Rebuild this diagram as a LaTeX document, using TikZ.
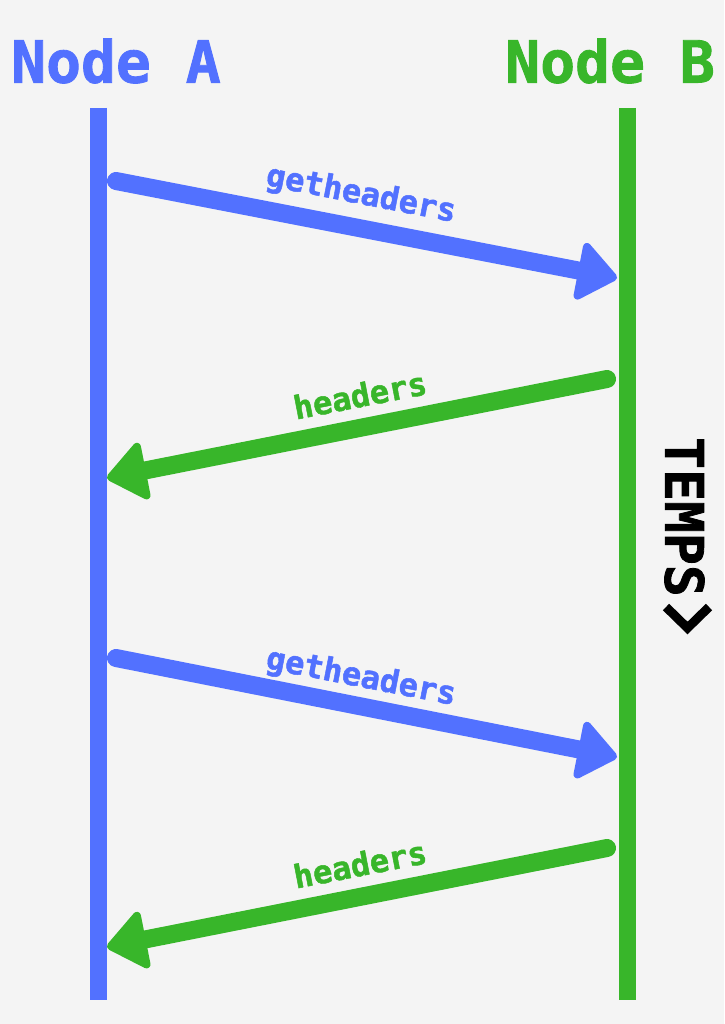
\documentclass[tikz,border=0pt]{standalone}
\usepackage{fontspec}
\setmonofont{DejaVu Sans Mono}
\newfontfamily\heavyfont{DejaVu Sans Mono}[BoldFeatures={FakeBold=1.5}]
\usepackage{tikz}
\usetikzlibrary{arrows.meta, positioning}
\definecolor{nodeblue}{HTML}{5271FF}
\definecolor{nodegreen}{HTML}{38B62A}
\definecolor{paper}{HTML}{F4F4F4}
\tikzset{
  lifeline/.style={line width=17pt},
  msg/.style={line width=18pt, line cap=round,
    -{Triangle[length=42pt,width=64pt,round,line width=8pt]}},
  title/.style={font=\heavyfont\bfseries\fontsize{58}{58}\selectfont, inner sep=0pt},
  msglabel/.style={font=\heavyfont\bfseries\fontsize{32}{32}\selectfont, inner sep=0pt},
}
\begin{document}
\begin{tikzpicture}[x=1pt, y=-1pt]
    \fill [paper] (0,0) rectangle (724,1024);
    \useasboundingbox (0,0) rectangle (724,1024);
    % titles
    \node [title, text=nodeblue, anchor=west](titleA) at (11,61) {Node A};
    \node [title, text=nodegreen, anchor=east](titleB) at (715,61) {Node B};
    % lifelines
    \coordinate (Atop) at (98,108);
    \coordinate (Abot) at (98,1000);
    \coordinate (Btop) at (627,108);
    \coordinate (Bbot) at (627,1000);
    \draw [lifeline, nodeblue] (Atop)--(Abot);
    \draw [lifeline, nodegreen] (Btop)--(Bbot);
    % messages
    \coordinate (a1) at (116,181);
    \coordinate (b1) at (617,278);
    \coordinate (b2) at (607,379);
    \coordinate (a2) at (107,478);
    \coordinate (a3) at (116,658);
    \coordinate (b3) at (617,757);
    \coordinate (b4) at (607,848);
    \coordinate (a4) at (107,947);
    \draw [msg, nodeblue] (a1)--(b1);
    \draw [msg, nodegreen] (b2)--(a2);
    \draw [msg, nodeblue] (a3)--(b3);
    \draw [msg, nodegreen] (b4)--(a4);
    \node [msglabel, text=nodeblue, rotate=-11](get1) at (361,195) {getheaders};
    \node [msglabel, text=nodegreen, rotate=11](hdr1) at (360,395) {headers};
    \node [msglabel, text=nodeblue, rotate=-11](get2) at (361,678) {getheaders};
    \node [msglabel, text=nodegreen, rotate=11](hdr2) at (360,864) {headers};
    % time
    \node [font=\heavyfont\bfseries\fontsize{53}{53}\selectfont, inner sep=0pt, rotate=-90](temps) at (684.5,517) {TEMPS};
    \draw [line width=9pt] (666,607)--(687.5,628)--(709,607);
\end{tikzpicture}
\end{document}
